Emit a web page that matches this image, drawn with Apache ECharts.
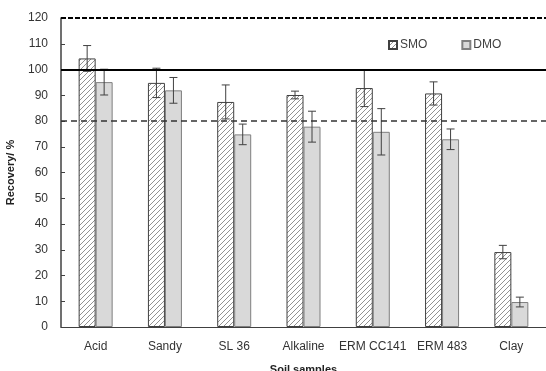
<!DOCTYPE html>
<html><head><meta charset="utf-8">
<script src="https://cdn.jsdelivr.net/npm/echarts@6/dist/echarts.min.js"></script>
<style>html,body{margin:0;padding:0;background:#fff}#c{width:546px;height:371px}</style>
</head><body><div id="c"></div>
<script>
const categories = ['Acid','Sandy','SL 36','Alkaline','ERM CC141','ERM 483','Clay'];
const smo = [104.3, 94.8, 87.4, 90.1, 92.8, 90.7, 29.1];
const smoErr = [5.0, 5.7, 6.6, 1.5, 7.2, 4.5, 2.6];
const dmo = [95.1, 91.9, 74.8, 77.8, 75.8, 72.9, 9.7];
const dmoErr = [5.0, 5.0, 4.0, 6.0, 9.0, 4.0, 1.9];
const yTicks = [0,10,20,30,40,50,60,70,80,90,100,110,120];

const BW = 17;
const T = 5;
const cv = document.createElement('canvas');
cv.width = T; cv.height = T;
const cx = cv.getContext('2d');
cx.fillStyle = '#fff'; cx.fillRect(0,0,T,T);
cx.strokeStyle = '#767676'; cx.lineWidth = 0.8;
cx.beginPath();
cx.moveTo(-1,T+1); cx.lineTo(T+1,-1);
cx.moveTo(-1,1); cx.lineTo(1,-1);
cx.moveTo(T-1,T+1); cx.lineTo(T+1,T-1);
cx.stroke();
const hatch = {image: cv, repeat: 'repeat'};

function errSeries(vals, errs, side){
  return {
    type: 'custom', z: 5, silent: true,
    data: vals.map((v,i)=>[i, v-errs[i], v+errs[i]]),
    renderItem: function(params, api){
      const lo = api.coord([api.value(0), api.value(1)]);
      const hi = api.coord([api.value(0), api.value(2)]);
      const x = lo[0] + side*BW/2;
      const c = 4;
      const st = {stroke:'#404040', lineWidth:1};
      return {type:'group', children:[
        {type:'line', shape:{x1:x,y1:lo[1],x2:x,y2:hi[1]}, style:st},
        {type:'line', shape:{x1:x-c,y1:lo[1],x2:x+c,y2:lo[1]}, style:st},
        {type:'line', shape:{x1:x-c,y1:hi[1],x2:x+c,y2:hi[1]}, style:st}
      ]};
    }
  };
}

const chart = echarts.init(document.getElementById('c'));
chart.setOption({
  animation: false,
  textStyle: {fontFamily: 'Liberation Sans'},
  grid: {left: 61, right: 0, top: 18, bottom: 44, containLabel: false, outerBoundsMode: 'none'},
  legend: {
    left: 383, top: 34, itemWidth: 8, itemHeight: 8, itemGap: 34,
    textStyle: {fontSize: 12, color: '#404040', padding: [0,0,0,-2]},
    data: [{name:'SMO', icon:'rect'}, {name:'DMO', icon:'rect'}]
  },
  xAxis: {
    type: 'category', data: categories,
    name: 'Soil samples', nameLocation: 'middle', nameGap: 37,
    nameTextStyle: {fontWeight: 'bold', fontSize: 11, color: '#222'},
    axisLine: {lineStyle: {color: '#404040', width: 1}},
    axisTick: {show: false},
    axisLabel: {fontSize: 12, color: '#333', margin: 14, interval: 0},
  },
  yAxis: {
    type: 'value', min: 0, max: 120, interval: 10,
    name: 'Recovery/ %', nameLocation: 'middle', nameGap: 45,
    nameTextStyle: {fontWeight: 'bold', fontSize: 11, color: '#222'},
    axisLine: {show: true, lineStyle: {color: '#404040', width: 1.5}},
    axisTick: {show: true, inside: true, length: 4, lineStyle: {color: '#404040'}},
    splitLine: {show: false},
    axisLabel: {fontSize: 12, color: '#333', margin: 13,
      formatter: v => yTicks.includes(v) ? String(v) : ''}
  },
  series: [
    {name: 'SMO', type: 'bar', data: smo, barWidth: BW, barGap: '0%',
      itemStyle: {color: hatch, borderColor: '#404040', borderWidth: 1},
      markLine: {silent: true, symbol: 'none', label: {show: false}, z: 6,
        data: [
          {yAxis: 100, lineStyle: {color: '#000', width: 2, type: 'solid'}},
          {yAxis: 80, lineStyle: {color: '#333', width: 1.5, type: [6,4]}},
          {yAxis: 120, lineStyle: {color: '#000', width: 2, type: [5,2]}}
        ]}
    },
    {name: 'DMO', type: 'bar', data: dmo, barWidth: BW, barGap: '0%',
      itemStyle: {color: '#d9d9d9', borderColor: '#7f7f7f', borderWidth: 1}},
    errSeries(smo, smoErr, -1),
    errSeries(dmo, dmoErr, 1)
  ]
});
</script></body></html>
